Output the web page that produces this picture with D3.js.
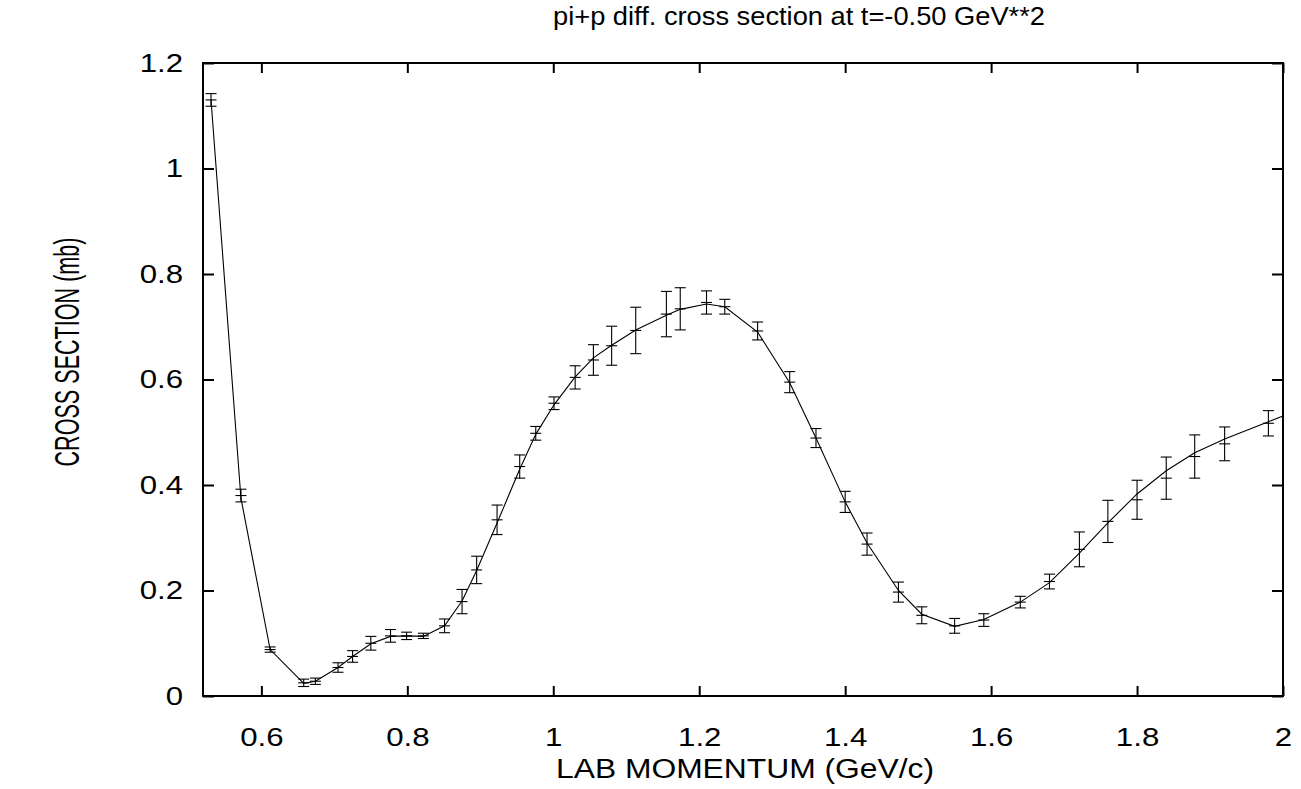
<!DOCTYPE html>
<html>
<head>
<meta charset="utf-8">
<script src="https://cdn.jsdelivr.net/npm/d3@7"></script>
<style>
  body { margin: 0; background: #fff; }
  text { font-family: "Liberation Sans", Arial, sans-serif; fill: #000; }
</style>
</head>
<body>
<script>
// measured points
var momentum = [0.531, 0.572, 0.612, 0.658, 0.674, 0.705, 0.725, 0.750, 0.777, 0.799, 0.822,
                0.851, 0.875, 0.895, 0.923, 0.954, 0.976, 1.001, 1.030, 1.055, 1.080, 1.113,
                1.155, 1.174, 1.210, 1.235, 1.280, 1.324, 1.360, 1.400, 1.430, 1.473, 1.505,
                1.550, 1.590, 1.640, 1.680, 1.721, 1.760, 1.800, 1.840, 1.879, 1.920, 1.980];
var xsec = [1.130, 0.380, 0.088, 0.025, 0.028, 0.054, 0.075, 0.100, 0.114, 0.114, 0.114,
            0.133, 0.179, 0.239, 0.334, 0.435, 0.498, 0.555, 0.604, 0.637, 0.664, 0.693,
            0.724, 0.734, 0.746, 0.738, 0.692, 0.595, 0.489, 0.368, 0.288, 0.197, 0.153,
            0.133, 0.144, 0.178, 0.217, 0.278, 0.331, 0.372, 0.413, 0.454, 0.478, 0.517];
var xsecErr = [0.012, 0.012, 0.005, 0.007, 0.006, 0.009, 0.011, 0.013, 0.012, 0.007, 0.005,
               0.013, 0.023, 0.026, 0.028, 0.022, 0.013, 0.012, 0.022, 0.029, 0.037, 0.044,
               0.043, 0.040, 0.022, 0.014, 0.017, 0.020, 0.018, 0.020, 0.021, 0.019, 0.016,
               0.014, 0.012, 0.011, 0.014, 0.033, 0.040, 0.037, 0.040, 0.041, 0.032, 0.024];

// fitted curve
var fitMomentum = [0.531, 0.572, 0.612, 0.658, 0.674, 0.705, 0.725, 0.750, 0.777, 0.799, 0.822,
                   0.851, 0.875, 0.895, 0.923, 0.954, 0.976, 1.001, 1.030, 1.055, 1.080, 1.113,
                   1.155, 1.174, 1.210, 1.235, 1.280, 1.324, 1.360, 1.400, 1.430, 1.473, 1.505,
                   1.550, 1.590, 1.640, 1.680, 1.721, 1.760, 1.800, 1.840, 1.879, 1.920, 1.980, 2.000];
var fitXsec = [1.130, 0.375, 0.088, 0.024, 0.028, 0.054, 0.075, 0.099, 0.113, 0.114, 0.113,
               0.133, 0.180, 0.238, 0.328, 0.430, 0.496, 0.552, 0.605, 0.641, 0.665, 0.694,
               0.722, 0.733, 0.743, 0.738, 0.690, 0.594, 0.489, 0.368, 0.290, 0.200, 0.155,
               0.132, 0.145, 0.178, 0.215, 0.271, 0.328, 0.383, 0.427, 0.461, 0.487, 0.520, 0.531];

var xTicks = [0.6, 0.8, 1, 1.2, 1.4, 1.6, 1.8, 2];
var yTicks = [0, 0.2, 0.4, 0.6, 0.8, 1, 1.2];

var titleText = "pi+p diff. cross section at t=-0.50 GeV**2";
var xLabel = "LAB MOMENTUM (GeV/c)";
var yLabel = "CROSS SECTION (mb)";

var W = 1301, H = 789;
var margin = { top: 63, right: 18, bottom: 93, left: 203 };
var w = W - margin.left - margin.right;
var h = H - margin.top - margin.bottom;

var xScale = d3.scaleLinear().domain([0.52, 2.0]).range([0, w]);
var yScale = d3.scaleLinear().domain([0, 1.2]).range([h, 0]);

var svg = d3.select("body").append("svg")
    .attr("width", W)
    .attr("height", H);

var g = svg.append("g")
    .attr("transform", "translate(" + margin.left + "," + margin.top + ")");

// axes with inward ticks, mirrored on top/right
var fmt = function(d) { return d3.format("")(+d.toFixed(1)); };
var bottomAxis = g.append("g")
    .attr("transform", "translate(0," + h + ")")
    .call(d3.axisBottom(xScale).tickValues(xTicks).tickSize(-10).tickPadding(32).tickFormat(fmt));
var leftAxis = g.append("g")
    .call(d3.axisLeft(yScale).tickValues(yTicks).tickSize(-11).tickPadding(20).tickFormat(fmt));
var topAxis = g.append("g")
    .call(d3.axisTop(xScale).tickValues(xTicks).tickSize(-10).tickFormat(""));
var rightAxis = g.append("g")
    .attr("transform", "translate(" + w + ",0)")
    .call(d3.axisRight(yScale).tickValues(yTicks).tickSize(-11).tickFormat(""));

[bottomAxis, leftAxis, topAxis, rightAxis].forEach(function(a) {
  a.select(".domain").remove();
  a.selectAll(".tick line").attr("stroke", "#000").attr("stroke-width", 2);
  a.selectAll(".tick text")
      .style("font-family", "'Liberation Sans', Arial, sans-serif")
      .style("font-size", "26px")
      .attr("fill", "#000")
      .each(function() {
        // the reference lettering is a bit wider than the font
        var len = this.getComputedTextLength();
        if (len > 0) d3.select(this).attr("textLength", len * 1.2).attr("lengthAdjust", "spacingAndGlyphs");
      });
});
bottomAxis.selectAll(".tick text").attr("dy", "0.71em");

// frame
g.append("rect")
    .attr("x", 0).attr("y", 0)
    .attr("width", w).attr("height", h)
    .attr("fill", "none")
    .attr("stroke", "#000")
    .attr("stroke-width", 2);

// fitted line
var fitData = fitMomentum.map(function(d, i) { return [d, fitXsec[i]]; });
g.append("path")
    .datum(fitData)
    .attr("fill", "none")
    .attr("stroke", "#000")
    .attr("stroke-width", 1.1)
    .attr("d", d3.line()
        .x(function(d) { return xScale(d[0]); })
        .y(function(d) { return yScale(d[1]); }));

// error bars
var pts = momentum.map(function(d, i) { return { x: d, y: xsec[i], e: xsecErr[i] }; });
var cap = 5.5;
var bars = g.selectAll(".errbar")
    .data(pts)
    .enter()
    .append("g")
    .attr("class", "errbar")
    .attr("stroke", "#000")
    .attr("stroke-width", 1.1);

bars.append("line")
    .attr("x1", function(d) { return xScale(d.x); })
    .attr("x2", function(d) { return xScale(d.x); })
    .attr("y1", function(d) { return yScale(d.y - d.e); })
    .attr("y2", function(d) { return yScale(d.y + d.e); });
bars.append("line")
    .attr("x1", function(d) { return xScale(d.x) - cap; })
    .attr("x2", function(d) { return xScale(d.x) + cap; })
    .attr("y1", function(d) { return yScale(d.y + d.e); })
    .attr("y2", function(d) { return yScale(d.y + d.e); });
bars.append("line")
    .attr("x1", function(d) { return xScale(d.x) - cap; })
    .attr("x2", function(d) { return xScale(d.x) + cap; })
    .attr("y1", function(d) { return yScale(d.y - d.e); })
    .attr("y2", function(d) { return yScale(d.y - d.e); });
bars.append("line")
    .attr("x1", function(d) { return xScale(d.x) - cap; })
    .attr("x2", function(d) { return xScale(d.x) + cap; })
    .attr("y1", function(d) { return yScale(d.y); })
    .attr("y2", function(d) { return yScale(d.y); });

// titles
svg.append("text")
    .attr("x", 799).attr("y", 25)
    .attr("text-anchor", "middle")
    .style("font-size", "26px")
    .attr("textLength", 492)
    .attr("lengthAdjust", "spacingAndGlyphs")
    .text(titleText);

svg.append("text")
    .attr("x", 745).attr("y", 778)
    .attr("text-anchor", "middle")
    .style("font-size", "27px")
    .attr("textLength", 378)
    .attr("lengthAdjust", "spacingAndGlyphs")
    .text(xLabel);

svg.append("text")
    .attr("transform", "translate(79,352)rotate(-90)")
    .attr("text-anchor", "middle")
    .style("font-size", "35px")
    .attr("textLength", 229)
    .attr("lengthAdjust", "spacingAndGlyphs")
    .text(yLabel);
</script>
</body>
</html>
